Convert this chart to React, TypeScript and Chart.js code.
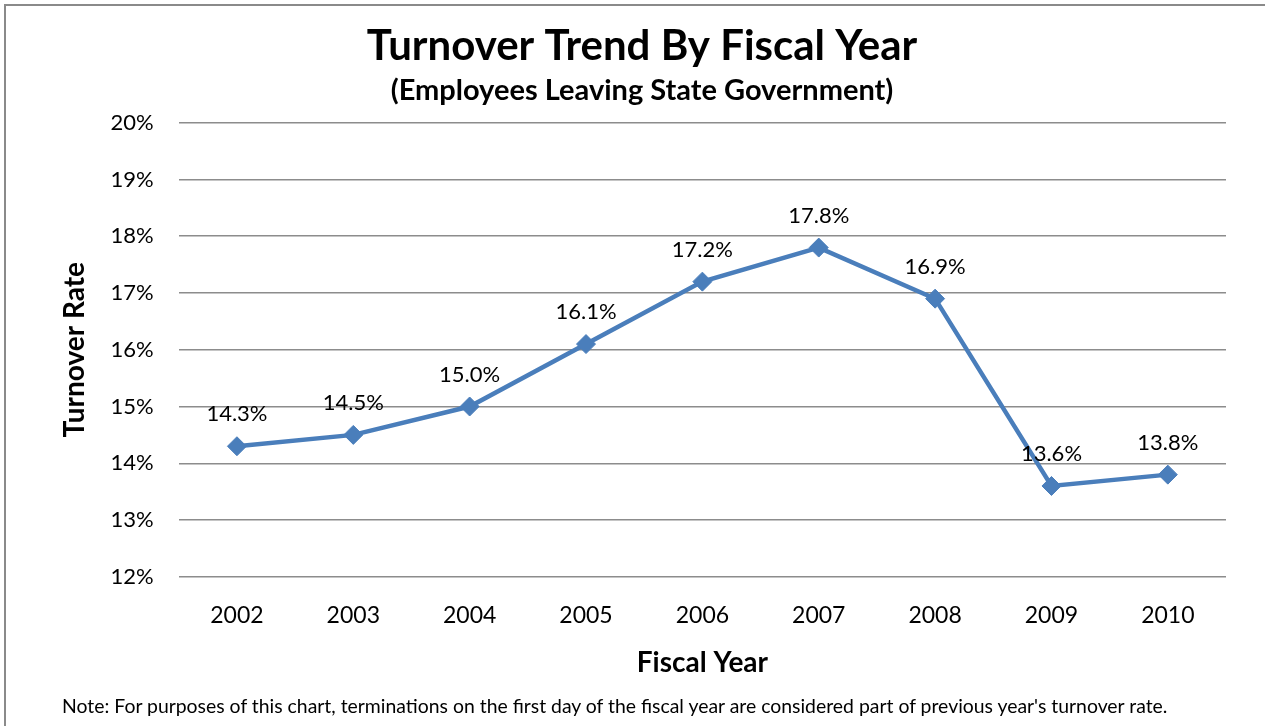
import React, { useEffect, useRef } from "react";
import { Chart, registerables } from "chart.js";

Chart.register(...registerables);

const years = ["2002", "2003", "2004", "2005", "2006", "2007", "2008", "2009", "2010"];
const turnoverRate = [14.3, 14.5, 15.0, 16.1, 17.2, 17.8, 16.9, 13.6, 13.8];
const yMin = 12;
const yMax = 20;
const titleText = "Turnover Trend By Fiscal Year";
const subtitleText = "(Employees Leaving State Government)";
const yTitle = "Turnover Rate";
const xTitle = "Fiscal Year";
const noteText =
  "Note:  For purposes of this chart, terminations on the first day of the fiscal year are considered part of previous year's turnover rate.";

const FONT = "Lato, 'Open Sans', 'Noto Sans', sans-serif";
const LINE = "#4a7ebb";

const dataLabelPlugin = {
  id: "dataLabels",
  afterDatasetsDraw(chart: any) {
    const ctx = chart.ctx;
    const meta = chart.getDatasetMeta(0);
    const ds = chart.data.datasets[0];
    ctx.save();
    ctx.font = `22px ${FONT}`;
    ctx.fillStyle = "#000";
    ctx.textAlign = "center";
    ctx.textBaseline = "middle";
    meta.data.forEach((el: any, i: number) => {
      const v = ds.data[i] as number;
      ctx.fillText(v.toFixed(1) + "%", el.x, el.y - 32);
    });
    ctx.restore();
  },
};

export default function App() {
  const ref = useRef<HTMLCanvasElement>(null);
  useEffect(() => {
    if (!ref.current) return;
    const chart = new Chart(ref.current, {
      type: "line",
      data: {
        labels: years,
        datasets: [
          {
            data: turnoverRate,
            borderColor: LINE,
            backgroundColor: LINE,
            borderWidth: 4.5,
            pointStyle: "rectRot",
            pointRadius: 9.5,
            pointHoverRadius: 9.5,
            pointBorderWidth: 1,
            pointBackgroundColor: LINE,
            pointBorderColor: LINE,
            tension: 0,
          },
        ],
      },
      options: {
        responsive: false,
        animation: false,
        events: [],
        layout: { padding: { left: 58, right: 39, top: 0, bottom: 46 } },
        plugins: {
          legend: { display: false },
          tooltip: { enabled: false },
          title: {
            display: true,
            text: titleText,
            color: "#000",
            font: { family: FONT, size: 42, weight: "bold" },
            padding: { top: 21, bottom: 2 },
          },
          subtitle: {
            display: true,
            text: subtitleText,
            color: "#000",
            font: { family: FONT, size: 29, weight: "bold" },
            padding: { top: 0, bottom: 14.5 },
          },
        },
        scales: {
          x: {
            offset: true,
            grid: { display: false, drawTicks: false },
            border: { display: false },
            ticks: { color: "#000", font: { family: FONT, size: 23 }, padding: 25 },
            title: {
              display: true,
              text: xTitle,
              color: "#000",
              font: { family: FONT, size: 28, weight: "bold" },
              padding: { top: -8, bottom: 0 },
            },
          },
          y: {
            min: yMin,
            max: yMax,
            grid: { color: "#8c8c8c", lineWidth: 1.5, drawTicks: false },
            border: { display: false },
            ticks: {
              stepSize: 1,
              color: "#000",
              font: { family: FONT, size: 22 },
              padding: 25,
              callback: (v: any) => v + "%",
            },
            title: {
              display: true,
              text: yTitle,
              color: "#000",
              font: { family: FONT, size: 28, weight: "bold" },
              padding: { top: 0, bottom: -6 },
            },
          },
        },
      },
      plugins: [dataLabelPlugin],
    });
    return () => chart.destroy();
  }, []);

  return (
    <div
      style={{
        position: "absolute",
        left: 0,
        top: 0,
        width: 1265,
        height: 726,
        background: "#fff",
        overflow: "hidden",
      }}
    >
      <div
        style={{
          position: "absolute",
          left: 4,
          top: 4,
          width: 1300,
          height: 800,
          borderLeft: "2px solid #8a8a8a",
          borderTop: "2px solid #8a8a8a",
        }}
      />
      <canvas ref={ref} width={1265} height={726} style={{ position: "absolute", left: 0, top: 0 }} />
      <div
        style={{
          position: "absolute",
          left: 62,
          top: 694,
          fontFamily: FONT,
          fontSize: 19.4,
          color: "#000",
          whiteSpace: "nowrap",
          lineHeight: "24px",
        }}
      >
        {noteText}
      </div>
    </div>
  );
}
